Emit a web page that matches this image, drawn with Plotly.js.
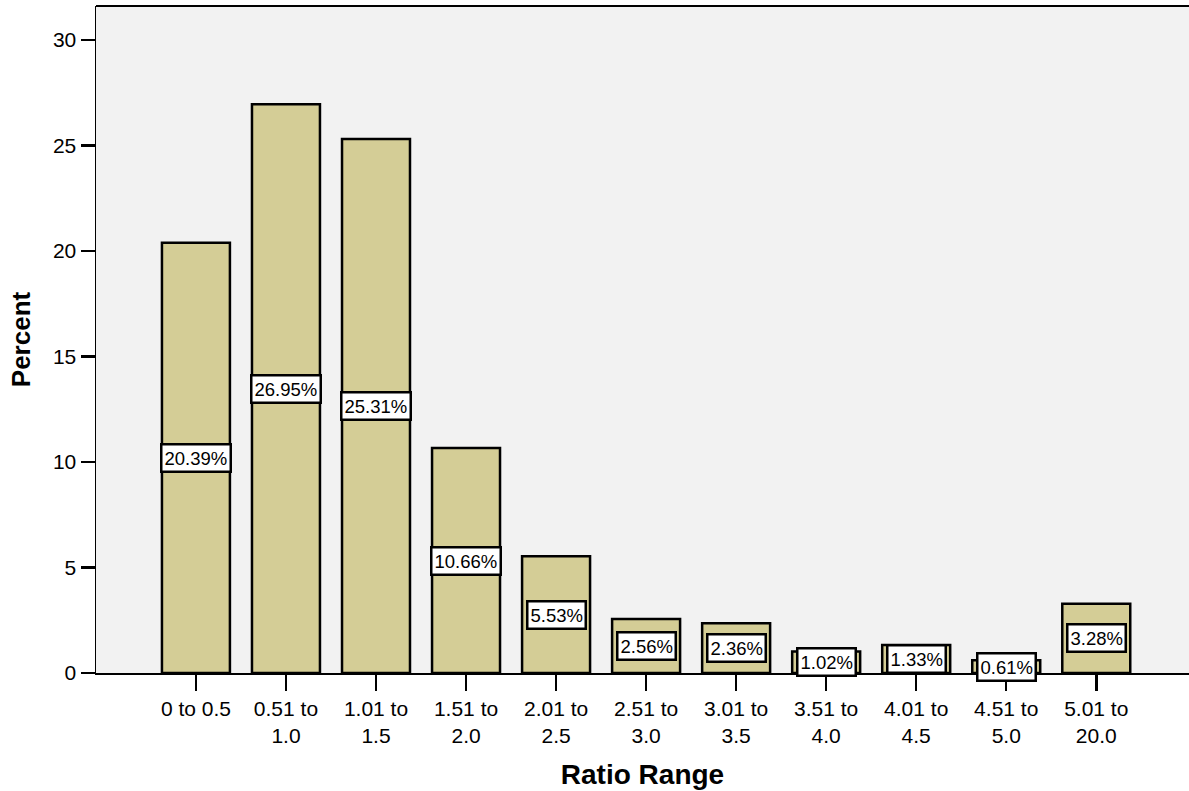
<!DOCTYPE html>
<html>
<head>
<meta charset="utf-8">
<script src="https://cdn.plot.ly/plotly-3.0.1.min.js"></script>
<style>html,body{margin:0;padding:0;background:#fff;}#chart{width:1189px;height:791px;}</style>
</head>
<body>
<div id="chart"></div>
<script>
const categories = ["0 to 0.5", "0.51 to<br>1.0", "1.01 to<br>1.5", "1.51 to<br>2.0", "2.01 to<br>2.5", "2.51 to<br>3.0", "3.01 to<br>3.5", "3.51 to<br>4.0", "4.01 to<br>4.5", "4.51 to<br>5.0", "5.01 to<br>20.0"];
const percents = [20.39, 26.95, 25.31, 10.66, 5.53, 2.56, 2.36, 1.02, 1.33, 0.61, 3.28];
const yTicks = [0, 5, 10, 15, 20, 25, 30];

const font = "Liberation Sans, Arial, sans-serif";

const trace = {
  type: 'bar',
  x: categories,
  y: percents,
  width: 0.755,
  marker: {color: '#D4CD96', line: {color: '#000', width: 2.5}},
  hoverinfo: 'skip'
};

const annotations = categories.map((c, i) => ({
  x: c, y: percents[i] / 2, xref: 'x', yref: 'y',
  text: percents[i].toFixed(2) + '%',
  showarrow: false,
  font: {family: font, size: 18.5, color: '#000'},
  bgcolor: '#fff', bordercolor: '#000', borderwidth: 2.5, borderpad: 2,
  xanchor: 'center', yanchor: 'middle'
}));

const layout = {
  width: 1189, height: 791,
  margin: {l: 96, r: 0, t: 6, b: 118},
  paper_bgcolor: '#fff',
  plot_bgcolor: '#F2F2F2',
  showlegend: false,
  bargap: 0.245,
  font: {family: font, color: '#000', size: 21},
  xaxis: {
    type: 'category',
    range: [-1.11, 11.03],
    showgrid: false, zeroline: false,
    showline: true, linecolor: '#000', linewidth: 1.5, mirror: false,
    ticks: 'outside', ticklen: 16, tickwidth: 2.5, tickcolor: '#000',
    tickfont: {family: font, size: 21, color: '#000'},
    title: {text: '<b>Ratio Range</b>', font: {family: font, size: 28, color: '#000'}, standoff: 18}
  },
  yaxis: {
    range: [0, 31.61],
    tickvals: yTicks,
    showgrid: false, zeroline: false,
    showline: true, linecolor: '#000', linewidth: 1.5,
    ticks: 'outside', ticklen: 14, tickwidth: 2.5, tickcolor: '#000',
    tickfont: {family: font, size: 21, color: '#000'},
    title: {text: '<b>Percent</b>', font: {family: font, size: 26, color: '#000'}, standoff: 15}
  },
  shapes: [
    {type: 'line', xref: 'paper', yref: 'paper', x0: 0, x1: 1, y0: 1, y1: 1, line: {color: '#000', width: 2}}
  ],
  annotations: annotations
};

Plotly.newPlot('chart', [trace], layout, {displayModeBar: false, staticPlot: true});
</script>
</body>
</html>
